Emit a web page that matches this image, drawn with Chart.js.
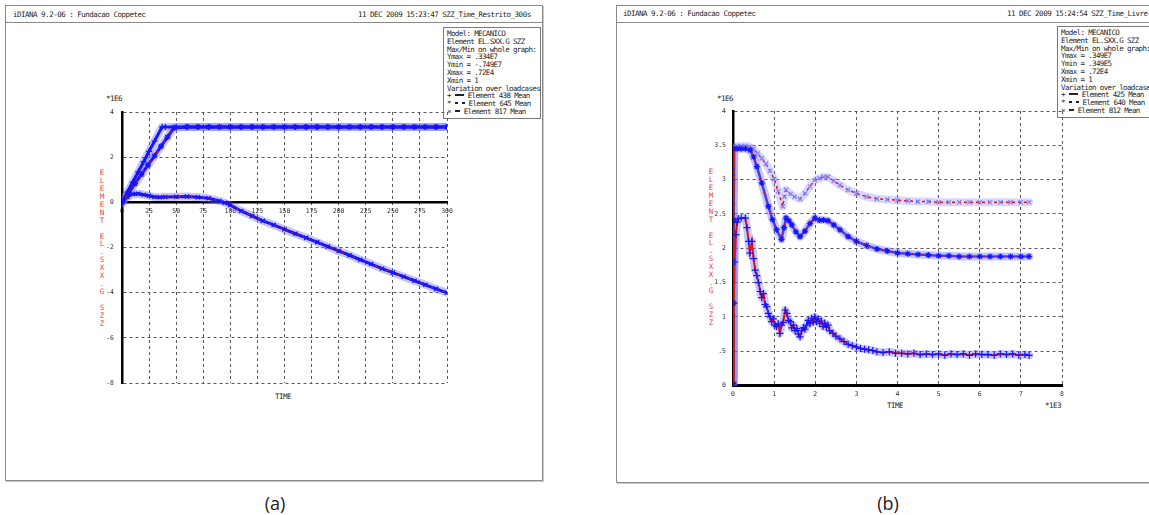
<!DOCTYPE html>
<html>
<head>
<meta charset="utf-8">
<script src="https://cdn.jsdelivr.net/npm/chart.js@4"></script>
<style>
  html, body { margin: 0; padding: 0; background: #fff; width: 1149px; height: 515px; overflow: hidden; position: relative; }
  .panel { position: absolute; box-sizing: border-box; border: 1px solid #8a8a8a; box-shadow: 1px 1px 0 #c8c8c8; background: #fff; overflow: hidden; }
  .rule { position: absolute; height: 0; border-top: 1px solid #8a8a8a; }
  .t { position: absolute; font: 7.5px 'DejaVu Sans Mono', monospace; letter-spacing: -0.5px; color: #262626; white-space: pre; line-height: 8px; }
  .box { position: absolute; box-sizing: border-box; border: 1px solid #7a7a7a; background: #fff; padding: 2px 0 0 3px; }
  .box div { font: 7.5px 'DejaVu Sans Mono', monospace; letter-spacing: -0.64px; color: #262626; white-space: pre; line-height: 7.8px; }
  .bar { display: inline-block; height: 2px; background: #222; vertical-align: 2px; }
  .ytitle { position: absolute; width: 8px; text-align: center; font: 7.5px 'DejaVu Sans Mono', monospace; color: #e64848; line-height: 7.93px; }
  .cap { position: absolute; font: 18px 'Open Sans', sans-serif; color: #222; transform: translateX(-50%); }
  canvas { position: absolute; }
</style>
</head>
<body>

<div class="panel" style="left:5px; top:5px; width:538px; height:476px;"></div>
<div class="panel" style="left:616px; top:5px; width:540px; height:478px;"></div>
<div class="rule" style="left:5px; top:22px; width:537px;"></div>
<div class="rule" style="left:616px; top:22px; width:533px;"></div>

<div class="t" style="left:13px; top:11px;">iDIANA 9.2-06 : Fundacao Coppetec</div>
<div class="t" style="left:358px; top:11px;">11 DEC 2009 15:23:47 SZZ_Time_Restrito_300s</div>
<div class="t" style="left:623px; top:10px;">iDIANA 9.2-06 : Fundacao Coppetec</div>
<div class="t" style="left:1007px; top:10px;">11 DEC 2009 15:24:54 SZZ_Time_Livre</div>

<div class="box" id="boxA" style="left:443px; top:27px; width:98px; height:92px;"></div>
<div class="box" id="boxB" style="left:1057px; top:26px; width:100px; height:92px;"></div>

<div class="ytitle" id="ytA" style="left:98px; top:169px;"></div>
<div class="ytitle" id="ytB" style="left:707px; top:168px;"></div>

<div class="t" style="left:106px; top:95px;">*1E6</div>
<div class="t" style="left:717px; top:95px;">*1E6</div>
<div class="t" style="left:275px; top:393px;">TIME</div>
<div class="t" style="left:887px; top:402px;">TIME</div>
<div class="t" style="left:1045px; top:402px;">*1E3</div>

<canvas id="chartA" width="380" height="300" style="left:80px; top:95px;"></canvas>
<canvas id="chartB" width="390" height="315" style="left:690px; top:95px;"></canvas>

<div class="cap" style="left:275px; top:491px;">(a)</div>
<div class="cap" style="left:888px; top:491px;">(b)</div>

<script>
// ---- (a) restrained case, time in s, SZZ in 1E6 ----
const timeA438 = [0, 5, 10, 15, 20, 25, 30, 37, 40, 50, 60, 70, 80, 90, 100, 110, 120, 130, 140, 150,
  160, 170, 180, 190, 200, 210, 220, 230, 240, 250, 260, 270, 280, 290, 300];
const szzA438 = [0, 0.45, 0.9, 1.35, 1.8, 2.26, 2.71, 3.34, 3.34, 3.34, 3.34, 3.34, 3.34, 3.34, 3.34, 3.34, 3.34, 3.34, 3.34, 3.34,
  3.34, 3.34, 3.34, 3.34, 3.34, 3.34, 3.34, 3.34, 3.34, 3.34, 3.34, 3.34, 3.34, 3.34, 3.34];

const timeA645 = [0, 6, 12, 18, 24, 30, 36, 42, 48, 60, 70, 80, 90, 100, 110, 120, 130, 140, 150,
  160, 170, 180, 190, 200, 210, 220, 230, 240, 250, 260, 270, 280, 290, 300];
const szzA645 = [0, 0.41, 0.83, 1.24, 1.65, 2.06, 2.48, 2.89, 3.3, 3.34, 3.34, 3.34, 3.34, 3.34, 3.34, 3.34, 3.34, 3.34, 3.34,
  3.34, 3.34, 3.34, 3.34, 3.34, 3.34, 3.34, 3.34, 3.34, 3.34, 3.34, 3.34, 3.34, 3.34, 3.34];

const timeA817 = [0, 5, 10, 15, 20, 25, 30, 35, 40, 50, 60, 70, 80, 90, 95, 100, 110, 120, 130, 140,
  150, 160, 170, 180, 190, 200, 210, 220, 230, 240, 250, 260, 270, 280, 290, 300];
const szzA817 = [0, 0.25, 0.37, 0.38, 0.34, 0.29, 0.24, 0.23, 0.24, 0.25, 0.26, 0.23, 0.18, 0.06, -0.02, -0.12, -0.38, -0.6, -0.82, -1.0,
  -1.2, -1.39, -1.57, -1.76, -1.96, -2.15, -2.34, -2.54, -2.73, -2.93, -3.11, -3.29, -3.47, -3.65, -3.83, -4.0];

// ---- (b) free case, time in 1E3 s, SZZ in 1E6 ----
const timeB425 = [0.001, 0.02, 0.04, 0.07, 0.1, 0.13, 0.2, 0.3, 0.34, 0.38,
  0.41, 0.46, 0.5, 0.54, 0.58, 0.62, 0.66, 0.7, 0.74, 0.78,
  0.82, 0.86, 0.9, 0.94, 0.98, 1.02, 1.06, 1.1, 1.14, 1.18,
  1.22, 1.27, 1.31, 1.35, 1.39, 1.43, 1.47, 1.51, 1.55, 1.59,
  1.63, 1.67, 1.71, 1.75, 1.79, 1.83, 1.87, 1.91, 1.95, 1.99,
  2.03, 2.07, 2.11, 2.15, 2.19, 2.23, 2.27, 2.31, 2.35, 2.43,
  2.5, 2.6, 2.7, 2.8, 2.9, 3.0, 3.1, 3.2, 3.3, 3.4,
  3.5, 3.65, 3.8, 3.95, 4.1, 4.25, 4.4, 4.55, 4.7, 4.85,
  5.0, 5.15, 5.3, 5.45, 5.6, 5.75, 5.9, 6.05, 6.2, 6.35,
  6.5, 6.65, 6.8, 6.95, 7.1, 7.2];
const szzB425 = [0.035, 1.2, 1.8, 2.2, 2.38, 2.43, 2.44, 2.44, 2.3, 2.1,
  1.93, 2.1, 1.85, 1.68, 1.6, 1.5, 1.37, 1.28, 1.34, 1.18,
  1.15, 1.05, 1.0, 0.93, 0.97, 0.88, 0.86, 0.9, 0.76, 0.88,
  0.92, 1.1, 1.05, 0.95, 0.93, 0.84, 0.88, 0.8, 0.83, 0.75,
  0.71, 0.8, 0.84, 0.82, 0.88, 0.95, 0.9, 0.98, 0.92, 1.0,
  0.93, 0.97, 0.9, 0.94, 0.86, 0.91, 0.85, 0.88, 0.8, 0.76,
  0.72, 0.68, 0.64, 0.6, 0.58, 0.56, 0.54, 0.53, 0.52, 0.51,
  0.49, 0.48, 0.49, 0.47, 0.47, 0.46, 0.47, 0.45, 0.46, 0.45,
  0.46, 0.44, 0.46, 0.45, 0.46, 0.44, 0.46, 0.45, 0.45, 0.44,
  0.46, 0.45, 0.46, 0.44, 0.45, 0.44];

const timeB640 = [0.001, 0.01, 0.02, 0.03, 0.1, 0.2, 0.3, 0.42, 0.5, 0.58, 0.7, 0.86, 0.96,
  1.06, 1.18, 1.24, 1.29, 1.36, 1.43, 1.53, 1.63, 1.75, 1.87, 1.99,
  2.1, 2.2, 2.31, 2.45, 2.6, 2.8, 3.0, 3.25, 3.5, 3.75,
  4.0, 4.25, 4.5, 4.75, 5.0, 5.25, 5.5, 5.75, 6.0, 6.25, 6.5, 6.75, 7.0, 7.2];
const szzB640 = [0.035, 1.2, 2.4, 3.45, 3.45, 3.45, 3.45, 3.43, 3.33, 3.19, 2.95, 2.61, 2.42,
  2.27, 2.13, 2.3, 2.44, 2.4, 2.34, 2.24, 2.17, 2.25, 2.36, 2.44,
  2.41, 2.41, 2.4, 2.34, 2.27, 2.17, 2.1, 2.04, 1.99, 1.96,
  1.93, 1.92, 1.91, 1.9, 1.89, 1.89, 1.88, 1.88, 1.88, 1.88, 1.88, 1.88, 1.88, 1.88];

const timeB812 = [0.001, 0.01, 0.02, 0.03, 0.1, 0.2, 0.3, 0.4, 0.5, 0.6, 0.7, 0.8, 0.9, 1.0,
  1.1, 1.21, 1.25, 1.29, 1.4, 1.5, 1.63, 1.75, 1.87, 1.99,
  2.1, 2.2, 2.31, 2.45, 2.6, 2.8, 3.0, 3.25, 3.5, 3.75,
  4.0, 4.25, 4.5, 4.75, 5.0, 5.25, 5.5, 5.75, 6.0, 6.25, 6.5, 6.75, 7.0, 7.2];
const szzB812 = [0.035, 1.2, 2.4, 3.47, 3.49, 3.49, 3.49, 3.48, 3.45, 3.38, 3.31, 3.23, 3.13, 3.01,
  2.83, 2.61, 2.75, 2.85, 2.79, 2.75, 2.72, 2.8, 2.9, 2.99,
  3.02, 3.04, 3.04, 2.98, 2.92, 2.85, 2.8, 2.75, 2.72, 2.71,
  2.7, 2.69, 2.68, 2.68, 2.67, 2.67, 2.67, 2.67, 2.67, 2.67, 2.67, 2.67, 2.67, 2.67];

const legendA = ['Model: MECANICO', 'Element EL.SXX.G SZZ', 'Max/Min on whole graph:',
  'Ymax = .334E7', 'Ymin = -.749E7', 'Xmax = .72E4', 'Xmin = 1', 'Variation over loadcases'];
const legendB = ['Model: MECANICO', 'Element EL.SXX.G SZZ', 'Max/Min on whole graph:',
  'Ymax = .349E7', 'Ymin = .349E5', 'Xmax = .72E4', 'Xmin = 1', 'Variation over loadcases'];
const elementsA = ['438', '645', '817'];
const elementsB = ['425', '640', '812'];
const yTitle = 'ELEMENT EL.SXX.G SZZ';

const BLUE = '#1414ff';
const RED = '#e01414';
const HALO = 'rgba(105,105,255,0.38)';
const FONT = { family: 'DejaVu Sans Mono', size: 6.5 };

// info box in the top right corner of each plot
function fillBox(id, lines, elements) {
  const marks = [
    '+ <span class="bar" style="width:9px"></span>',
    '* <span class="bar" style="width:3px"></span> <span class="bar" style="width:3px"></span>',
    '× <span class="bar" style="width:5px"></span>'
  ];
  let html = lines.map(l => '<div>' + l + '</div>').join('');
  elements.forEach((el, i) => {
    html += '<div>' + marks[i] + ' Element ' + el + ' Mean</div>';
  });
  document.getElementById(id).innerHTML = html;
}
fillBox('boxA', legendA, elementsA);
fillBox('boxB', legendB, elementsB);

// stacked red axis label
const stacked = yTitle.split('').map(c => c === ' ' ? '&nbsp;' : c).join('<br>');
document.getElementById('ytA').innerHTML = stacked;
document.getElementById('ytB').innerHTML = stacked;

// one curve = soft halo + core line + dashed/solid line with markers
function curve(time, values, s) {
  const data = time.map((t, i) => ({ x: t, y: values[i] }));
  const sets = [{
    data, showLine: true, order: 3, borderColor: s.halo || HALO, borderWidth: s.haloWidth || 8,
    pointRadius: 0, borderJoinStyle: 'round', borderCapStyle: 'round'
  }];
  if (s.core) {
    sets.push({ data, showLine: true, order: 2, borderColor: s.core, borderWidth: s.coreWidth || 3, pointRadius: 0, borderJoinStyle: 'round' });
  }
  sets.push({
    data, showLine: true, order: 1,
    borderColor: s.line, borderWidth: s.lineWidth || 1.2, borderDash: s.dash || [],
    pointStyle: s.marker, pointRadius: s.radius || 3, pointBorderColor: s.markerColor || BLUE,
    pointBackgroundColor: 'transparent', pointBorderWidth: 1.2
  });
  return sets;
}

function gridColor(ctx) {
  return ctx.tick && ctx.tick.value === 0 ? 'transparent' : '#5a5a5a';
}

function buildChart(id, datasets, xScale, yScale, padding) {
  return new Chart(document.getElementById(id), {
    type: 'scatter',
    data: { datasets },
    options: {
      responsive: false,
      animation: false,
      devicePixelRatio: 1,
      layout: { padding },
      plugins: { legend: { display: false }, tooltip: { enabled: false } },
      scales: { x: xScale, y: yScale }
    }
  });
}

buildChart('chartA', [
  ...curve(timeA438, szzA438, { core: BLUE, line: BLUE, marker: 'cross' }),
  ...curve(timeA645, szzA645, { core: BLUE, line: RED, dash: [3, 3], marker: 'star' }),
  ...curve(timeA817, szzA817, { core: BLUE, line: RED, dash: [2, 4], marker: 'crossRot' })
], {
  type: 'linear', min: 0, max: 300, position: { y: 0 },
  ticks: { stepSize: 25, font: FONT, color: '#333', padding: 5, maxRotation: 0 },
  grid: { color: gridColor, drawTicks: false, lineWidth: 1 },
  border: { color: '#000', width: 2.5, dash: [3, 3] }
}, {
  type: 'linear', min: -8, max: 4,
  ticks: { stepSize: 2, font: FONT, color: '#333', padding: 8 },
  grid: { color: gridColor, drawTicks: false, lineWidth: 1 },
  border: { color: '#000', width: 2.5, dash: [3, 3] },
  afterFit: s => { s.width = 42; }
}, { left: 0, top: 17, right: 13, bottom: 10 });

buildChart('chartB', [
  ...curve(timeB425, szzB425, { line: RED, lineWidth: 2, marker: 'cross', radius: 3.5 }),
  ...curve(timeB640, szzB640, { core: 'rgba(40,40,255,0.85)', coreWidth: 2.5, line: RED, dash: [2, 3], marker: 'star' }),
  ...curve(timeB812, szzB812, { halo: 'rgba(130,130,255,0.3)', line: RED, lineWidth: 1.5, dash: [3, 3], marker: 'crossRot', markerColor: '#8080ff' })
], {
  type: 'linear', min: 0, max: 8, position: 'bottom',
  ticks: { stepSize: 1, font: FONT, color: '#333', padding: 5, maxRotation: 0 },
  grid: { color: gridColor, drawTicks: false, lineWidth: 1 },
  border: { color: '#000', width: 3, dash: [3, 3] },
  afterFit: s => { s.height = 24.5; }
}, {
  type: 'linear', min: 0, max: 4,
  ticks: {
    stepSize: 0.5, font: FONT, color: '#333', padding: 7,
    callback: v => v === 0.5 ? '.5' : String(v)
  },
  grid: { color: gridColor, drawTicks: false, lineWidth: 1 },
  border: { color: '#000', width: 2.5, dash: [3, 3] },
  afterFit: s => { s.width = 43; }
}, { left: 0, top: 16, right: 18, bottom: 0 });
</script>
</body>
</html>
